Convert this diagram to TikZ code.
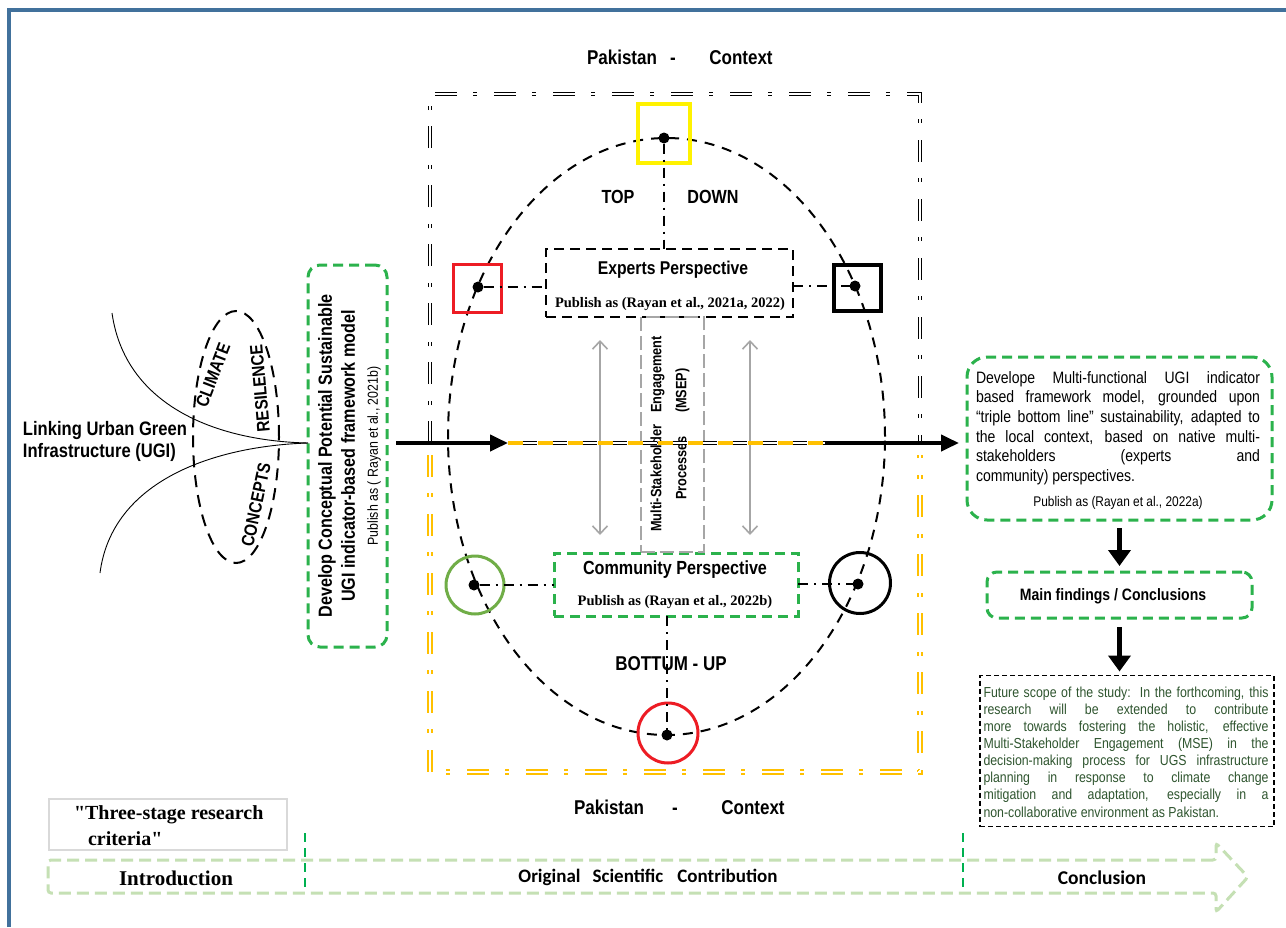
\documentclass[tikz,border=0pt]{standalone}
\usepackage{fontspec}
\setmainfont{Liberation Serif}
\newfontfamily\serq{Liberation Serif}
\newfontfamily\nar[FakeStretch=0.85]{Liberation Sans}
\newfontfamily\carl{Carlito}
\usetikzlibrary{arrows.meta,shapes.geometric,calc}
\newcommand\setfs[2]{\fontsize{#1}{#2}\selectfont}
\definecolor{gboxc}{RGB}{43,178,76}
\definecolor{ured}{RGB}{237,28,36}
\definecolor{uyel}{RGB}{255,242,0}
\definecolor{ugreen}{RGB}{112,173,71}
\definecolor{uorange}{RGB}{255,192,0}
\definecolor{ublue}{RGB}{65,113,156}
\definecolor{lgreen}{RGB}{197,224,180}
\definecolor{dgreen}{RGB}{0,176,80}
\definecolor{ftext}{RGB}{47,85,47}
\definecolor{ugrey}{RGB}{166,166,166}
\tikzset{
  every node/.style={inner sep=0pt, outer sep=0pt},
  ell/.style={draw, line width=2pt, dash pattern=on 10pt off 8pt},
  ddot/.style={draw, line width=2pt, dash pattern=on 10pt off 6pt on 2pt off 6pt},
  dotn/.style={circle, fill=black, minimum size=11pt},
  gbox/.style={draw=gboxc, line width=3pt, dash pattern=on 10pt off 6pt},
  frameblack/.style={draw=black, double=white, line width=1.2pt, double distance=1.8pt, dash pattern=on 22pt off 16pt on 4pt off 17pt},
  frameyel/.style={draw=uorange, double=white, line width=2pt, double distance=1.8pt, dash pattern=on 22pt off 16pt on 4pt off 17pt},
  bigarrow/.style={line width=4pt, -{Triangle[length=18pt,width=16pt]}},
  downarrow/.style={line width=4.5pt, -{Triangle[length=16pt,width=22pt]}},
  greyarrow/.style={ugrey, line width=1.6pt, {Straight Barb[length=8pt,width=15pt]}-{Straight Barb[length=8pt,width=15pt]}},
  hb/.style={font=\nar\bfseries\setfs{20}{24}, anchor=base},
}
\begin{document}
\begin{tikzpicture}[x=1pt,y=-1pt]
\useasboundingbox (0,0) rectangle (1286,927);
\fill[white] (0,0) rectangle (1286,927);
% blue border
\draw[ublue, line width=3.5pt] (9,927) -- (9,10) -- (1286,10);

% context frames
\draw[frameblack] (430,443) -- (430,94) -- (920,94) -- (920,443);
\draw[frameyel] (430,455) -- (430,772) -- (920,772) -- (920,455);

% Pakistan - Context labels
\node[hb] (pk1) at (622,64) {Pakistan};
\node[hb] (pd1) at (673,64) {-};
\node[hb] (pc1) at (741,64) {Context};
\node[hb] (pk2) at (609,814) {Pakistan};
\node[hb] (pd2) at (675,814) {-};
\node[hb] (pc2) at (753,814) {Context};

% big oval
\node[ell, ellipse, minimum width=437pt, minimum height=597pt] (oval) at (666.5,436.5) {};

% markers
\node[draw=uyel, line width=3.5pt, minimum width=52pt, minimum height=59pt] (sqTop) at (664,133.5) {};
\node[draw=ured, line width=3pt, minimum width=48pt, minimum height=48pt] (sqRed) at (477,288.5) {};
\node[draw=black, line width=4pt, minimum width=47pt, minimum height=46pt] (sqBlk) at (857,288) {};
\node[draw=ugreen, circle, line width=3pt, minimum size=58pt] (ciGrn) at (475,585) {};
\node[draw=black, circle, line width=3pt, minimum size=61pt] (ciBlk) at (860,583) {};
\node[draw=ured, circle, line width=3pt, minimum size=60pt] (ciRed) at (668,733) {};
\node[dotn] (dTop) at (664,138) {};
\node[dotn] (dRed) at (478,287) {};
\node[dotn] (dBlk) at (855,286) {};
\node[dotn] (dGrn) at (474,585) {};
\node[dotn] (dCbk) at (858,584) {};
\node[dotn] (dBot) at (667,735) {};

% experts box
\node[draw, line width=2pt, dash pattern=on 10pt off 6pt, minimum width=247pt, minimum height=68pt] (exp) at (669.5,283) {};
\node[font=\nar\bfseries\setfs{18.5}{22}] (expT) at (673,270) {Experts Perspective};
\node[font=\bfseries\setfs{14.5}{17}] (expP) at (670,304) {Publish as (Rayan et al., 2021a, 2022)};

% community box
\node[gbox, minimum width=244pt, minimum height=63pt] (com) at (676,584.5) {};
\node[font=\nar\bfseries\setfs{19}{22}] (comT) at (675,570) {Community Perspective};
\node[font=\bfseries\setfs{14.5}{17}] (comP) at (675,602) {Publish as (Rayan et al., 2022b)};

% MSEP box
\node[draw=ugrey, line width=1.2pt, dash pattern=on 14pt off 5pt, minimum width=63pt, minimum height=235pt] (msep) at (672.5,434.5) {};
\node[rotate=90, align=center, font=\nar\bfseries\setfs{15}{25}] (msepT) at (670,434) {Multi-Stakeholder\hspace{12pt}Engagement\\Processes\hspace{23pt}(MSEP)};
\coordinate (gaL1) at (600,340);
\coordinate (gaL2) at (600,535);
\coordinate (gaR1) at (750,340);
\coordinate (gaR2) at (750,535);
\draw[greyarrow] (gaL1) -- (gaL2);
\draw[greyarrow] (gaR1) -- (gaR2);

% dash-dot connectors
\draw[ddot] (dTop) -- (dTop |- exp.north);
\draw[ddot] (dRed) -- (dRed -| exp.west);
\draw[ddot] (exp.east |- dBlk) -- (dBlk);
\draw[ddot] (dGrn) -- (dGrn -| com.west);
\draw[ddot] (com.east |- dCbk) -- (dCbk);
\draw[ddot] (com.south -| dBot) -- (dBot);

\node[font=\nar\bfseries\setfs{19}{22}] (tTop) at (618,197) {TOP};
\node[font=\nar\bfseries\setfs{19}{22}] (tDown) at (713,197) {DOWN};
\node[font=\nar\bfseries\setfs{20}{24}] (tBot) at (671,664) {BOTTUM - UP};

% left part
\node[align=left, anchor=west, font=\nar\bfseries\setfs{19.5}{22}] (link) at (23,441) {Linking Urban Green\\Infrastructure (UGI)};
\node[ell, ellipse, dash pattern=on 12pt off 8pt, minimum width=86pt, minimum height=252pt] (lell) at (236,437) {};
\node[font=\nar\bfseries\setfs{18}{20}, rotate=69] (wClim) at (213,375) {CLIMATE};
\node[font=\nar\bfseries\setfs{18}{20}, rotate=95] (wRes) at (260,388) {RESILENCE};
\node[font=\nar\bfseries\setfs{18}{20}, rotate=78] (wCon) at (256,505) {CONCEPTS};

\node[gbox, rounded corners=12pt, minimum width=79pt, minimum height=382pt] (dev) at (347.5,456) {};
\node[rotate=90, align=center, font=\nar\bfseries\setfs{19}{23}] (devT) at (349.5,456) {Develop Conceptual Potential Sustainable\\UGI indicator-based framework model\\{\mdseries\setfs{14.5}{22}Publish as ( Rayan et al., 2021b)}};

\coordinate (fun) at (dev.west |- 0,443);
\coordinate (cu1) at (112,313);
\coordinate (cu2) at (100,573);
\draw[line width=0.9pt] (cu1) .. controls (125,405) and (215,441) .. (fun);
\draw[line width=0.9pt] (cu2) .. controls (112,480) and (215,446) .. (fun);

% result box
\node[gbox, rounded corners=20pt, minimum width=305pt, minimum height=163pt] (res) at (1119.5,438.5) {};
\node[align=left, font=\nar\setfs{16.5}{19.6}] (resT) at (1118,428) {%
\makebox[284pt][s]{Develope Multi-functional UGI indicator}\\
\makebox[284pt][s]{based framework model, grounded upon}\\
\makebox[284pt][s]{“triple bottom line” sustainability, adapted to}\\
\makebox[284pt][s]{the local context, based on native multi-}\\
\makebox[284pt][s]{stakeholders (experts and}\\
community) perspectives.};
\node[font=\nar\setfs{14}{17}] (resP) at (1118,503) {Publish as (Rayan et al., 2022a)};

% main horizontal arrow
\coordinate (mA) at (396,443);
\coordinate (mB) at (508,443);
\coordinate (mC) at (825,443);
\draw[bigarrow] (mA) -- (mB);
\draw[uorange, line width=3.5pt, dash pattern=on 15pt off 15pt] (mB) -- (mC);
\draw[draw=black, double=white, line width=1.4pt, double distance=1.4pt, dash pattern=on 14pt off 16pt, dash phase=15pt] (mB) -- (mC);
\draw[bigarrow] (mC) -- ($(mC -| res.west)+(-8,0)$);

% findings
\node[gbox, rounded corners=10pt, minimum width=265pt, minimum height=46pt] (mf) at (1119.5,595) {};
\node[font=\nar\bfseries\setfs{16.5}{20}] (mfT) at (1113,596) {Main findings / Conclusions};
\draw[downarrow] ($(res.south)+(0,8)$) -- ($(mf.north)+(0,-6)$);

% future scope
\node[draw, line width=1.3pt, dash pattern=on 5pt off 3pt, minimum width=294pt, minimum height=151pt] (fut) at (1127,751) {};
\draw[downarrow] ($(mf.south)+(0,9)$) -- ($(mf.south |- fut.north)+(0,-4)$);
\node[align=left, text=ftext, font=\nar\setfs{14.5}{17.1}] (futT) at (1126,752) {%
\makebox[285pt][s]{Future scope of the study:\ \ In the forthcoming, this}\\
\makebox[285pt][s]{research will be extended to contribute}\\
\makebox[285pt][s]{more towards fostering the holistic, effective}\\
\makebox[285pt][s]{Multi-Stakeholder Engagement (MSE) in the}\\
\makebox[285pt][s]{decision-making process for UGS infrastructure}\\
\makebox[285pt][s]{planning in response to climate change}\\
\makebox[285pt][s]{mitigation and adaptation, especially in a}\\
non-collaborative environment as Pakistan.};

% three-stage box
\node[draw=black!15, line width=1.2pt, minimum width=238pt, minimum height=51pt] (tsb) at (168,824.5) {};
\node[align=left, anchor=west, font=\serq\bfseries\setfs{20}{26}] (tsbT) at (74,826) {"Three-stage research\\\hspace*{14pt}criteria"};

% bottom bar
\draw[lgreen, line width=3pt, dash pattern=on 12pt off 6pt, rounded corners=3pt] (1216,860) -- (48,860) -- (48,893) -- (1216,893) -- (1216,912) -- (1248,877) -- (1216,843) -- cycle;
\coordinate (dv1a) at (305,833);
\coordinate (dv1b) at (305,891);
\coordinate (dv2a) at (963,833);
\coordinate (dv2b) at (963,891);
\draw[dgreen, line width=2pt, dash pattern=on 9pt off 6pt] (dv1a) -- (dv1b);
\draw[dgreen, line width=2pt, dash pattern=on 9pt off 6pt] (dv2a) -- (dv2b);
\node[font=\bfseries\setfs{21}{24}] (intro) at (176,878) {Introduction};
\node[font=\carl\bfseries\setfs{19}{22}] (orig) at (648,877) {Original\hspace{12pt}Scientific\hspace{14pt}Contribution};
\node[font=\carl\bfseries\setfs{19.5}{22}] (concl) at (1102,878) {Conclusion};
\end{tikzpicture}
\end{document}
